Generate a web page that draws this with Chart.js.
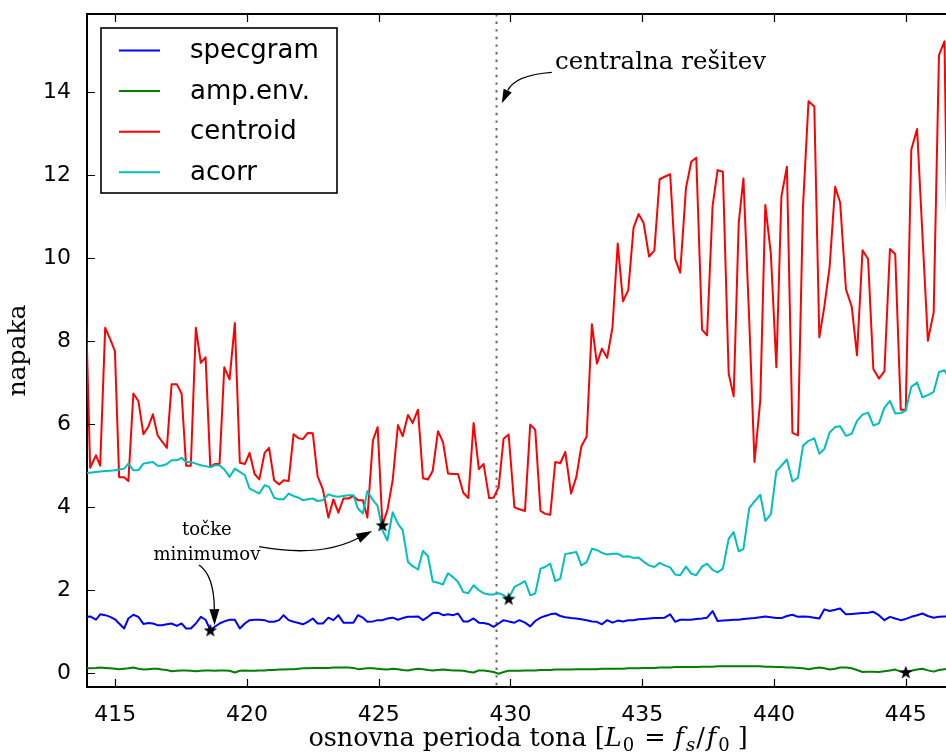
<!DOCTYPE html>
<html><head><meta charset="utf-8">
<script src="https://cdn.jsdelivr.net/npm/chart.js@4.4.1/dist/chart.umd.min.js"></script>
<style>
html,body{margin:0;padding:0;background:#fff;overflow:hidden;width:946px;height:756px}
#wrap{position:absolute;left:0;top:0;width:985px;height:756px}
</style></head><body><div id="wrap"><canvas id="c" width="985" height="756"></canvas></div>
<script>
// osnovna perioda tona L0 (x grid)
const L0 = [413.87, 414.05, 414.27, 414.43, 414.62, 414.81, 414.99, 415.15, 415.34, 415.50,
415.69, 415.88, 416.07, 416.26, 416.43, 416.61, 416.77, 416.96, 417.14, 417.34,
417.52, 417.69, 417.87, 418.06, 418.25, 418.43, 418.61, 418.78, 418.96, 419.14,
419.34, 419.54, 419.73, 419.92, 420.10, 420.29, 420.47, 420.67, 420.84, 421.03,
421.22, 421.39, 421.58, 421.77, 421.96, 422.12, 422.31, 422.50, 422.68, 422.88,
423.09, 423.28, 423.47, 423.66, 423.85, 424.04, 424.21, 424.40, 424.57, 424.78,
424.96, 425.14, 425.33, 425.53, 425.73, 425.91, 426.11, 426.29, 426.49, 426.68,
426.87, 427.05, 427.25, 427.44, 427.63, 427.83, 428.01, 428.21, 428.40, 428.60,
428.80, 428.98, 429.19, 429.36, 429.55, 429.74, 429.93, 430.15, 430.34, 430.55,
430.75, 430.94, 431.14, 431.32, 431.51, 431.70, 431.89, 432.08, 432.30, 432.50,
432.69, 432.89, 433.09, 433.28, 433.47, 433.67, 433.87, 434.07, 434.27, 434.47,
434.67, 434.86, 435.05, 435.26, 435.46, 435.66, 435.85, 436.06, 436.25, 436.44,
436.66, 436.86, 437.05, 437.27, 437.46, 437.67, 437.86, 438.06, 438.28, 438.47,
438.66, 438.84, 439.06, 439.26, 439.48, 439.67, 439.88, 440.09, 440.28, 440.49,
440.70, 440.91, 441.10, 441.31, 441.53, 441.72, 441.91, 442.11, 442.32, 442.51,
442.73, 442.95, 443.15, 443.36, 443.57, 443.77, 443.98, 444.19, 444.40, 444.60,
444.81, 445.00, 445.21, 445.43, 445.63, 445.84, 446.06, 446.26, 446.47, 446.68];

const specgram = [1.36, 1.37, 1.29, 1.42, 1.40, 1.36, 1.30, 1.20, 1.08, 1.32,
1.41, 1.36, 1.19, 1.21, 1.20, 1.16, 1.16, 1.18, 1.20, 1.14,
1.20, 1.08, 1.08, 1.20, 1.36, 1.29, 1.04, 1.12, 1.20, 1.25,
1.29, 1.29, 1.08, 1.20, 1.28, 1.29, 1.29, 1.28, 1.24, 1.24,
1.28, 1.40, 1.28, 1.24, 1.21, 1.18, 1.24, 1.32, 1.20, 1.20,
1.34, 1.28, 1.40, 1.22, 1.22, 1.22, 1.40, 1.34, 1.24, 1.25,
1.28, 1.28, 1.32, 1.34, 1.29, 1.33, 1.36, 1.36, 1.37, 1.28,
1.36, 1.45, 1.46, 1.40, 1.42, 1.40, 1.44, 1.25, 1.25, 1.32,
1.22, 1.21, 1.18, 1.12, 1.20, 1.28, 1.25, 1.22, 1.28, 1.22,
1.13, 1.26, 1.34, 1.38, 1.42, 1.44, 1.38, 1.35, 1.33, 1.32,
1.30, 1.28, 1.25, 1.24, 1.18, 1.28, 1.22, 1.27, 1.25, 1.28,
1.28, 1.30, 1.31, 1.32, 1.33, 1.33, 1.34, 1.42, 1.24, 1.29,
1.29, 1.29, 1.31, 1.32, 1.34, 1.50, 1.26, 1.27, 1.28, 1.29,
1.29, 1.31, 1.32, 1.33, 1.35, 1.37, 1.35, 1.33, 1.33, 1.38,
1.41, 1.36, 1.37, 1.36, 1.34, 1.32, 1.54, 1.50, 1.53, 1.56,
1.42, 1.43, 1.44, 1.45, 1.46, 1.48, 1.40, 1.28, 1.36, 1.32,
1.28, 1.31, 1.36, 1.40, 1.44, 1.38, 1.34, 1.36, 1.37, 1.37];

const ampEnv = [0.12, 0.12, 0.13, 0.14, 0.13, 0.12, 0.11, 0.10, 0.11, 0.12,
0.14, 0.11, 0.09, 0.10, 0.11, 0.11, 0.09, 0.08, 0.05, 0.06,
0.07, 0.07, 0.06, 0.05, 0.06, 0.07, 0.07, 0.06, 0.07, 0.07,
0.06, 0.02, 0.06, 0.07, 0.06, 0.06, 0.07, 0.07, 0.08, 0.08,
0.09, 0.09, 0.10, 0.10, 0.11, 0.12, 0.12, 0.13, 0.13, 0.13,
0.13, 0.14, 0.14, 0.14, 0.14, 0.13, 0.10, 0.11, 0.12, 0.12,
0.11, 0.10, 0.09, 0.11, 0.10, 0.08, 0.07, 0.09, 0.11, 0.10,
0.08, 0.07, 0.08, 0.09, 0.08, 0.07, 0.07, 0.06, 0.04, 0.02,
0.07, 0.07, 0.05, 0.03, -0.01, 0.03, 0.06, 0.06, 0.06, 0.07,
0.07, 0.07, 0.08, 0.08, 0.08, 0.09, 0.09, 0.09, 0.09, 0.10,
0.10, 0.10, 0.10, 0.10, 0.11, 0.11, 0.11, 0.11, 0.11, 0.12,
0.12, 0.12, 0.13, 0.13, 0.13, 0.14, 0.14, 0.14, 0.15, 0.15,
0.15, 0.15, 0.15, 0.16, 0.16, 0.16, 0.17, 0.17, 0.17, 0.17,
0.17, 0.17, 0.17, 0.17, 0.17, 0.16, 0.16, 0.15, 0.15, 0.14,
0.14, 0.13, 0.12, 0.10, 0.12, 0.14, 0.12, 0.09, 0.11, 0.14,
0.14, 0.12, 0.08, 0.03, 0.04, 0.04, 0.03, 0.05, 0.07, 0.09,
0.04, 0.03, 0.06, 0.09, 0.11, 0.07, 0.04, 0.08, 0.10, 0.11];

const centroid = [9.2, 4.95, 5.25, 5.0, 8.32, 8.05, 7.76, 4.72, 4.72, 4.63,
6.74, 6.56, 5.76, 5.94, 6.24, 5.73, 5.59, 5.43, 6.96, 6.96,
6.74, 5.0, 5.0, 8.32, 7.48, 7.61, 4.97, 5.04, 5.04, 7.37,
7.08, 8.44, 5.07, 5.04, 5.31, 4.80, 4.67, 5.31, 5.43, 4.65,
4.55, 4.65, 4.63, 5.76, 5.66, 5.64, 5.79, 5.78, 4.75, 4.43,
3.75, 4.19, 3.87, 4.21, 4.21, 4.27, 4.17, 4.17, 3.75, 5.61,
5.93, 3.57, 3.93, 4.65, 5.98, 5.71, 6.22, 6.03, 6.35, 4.70,
4.67, 4.88, 5.83, 5.57, 4.81, 4.80, 4.80, 4.35, 4.22, 6.03,
4.92, 5.04, 4.22, 4.23, 4.48, 5.65, 5.75, 4.00, 3.95, 3.91,
5.99, 5.87, 3.91, 3.84, 3.82, 5.09, 5.06, 5.33, 4.33, 4.73,
5.47, 5.70, 8.41, 7.46, 7.82, 7.60, 8.33, 10.35, 8.96, 9.23,
10.73, 11.06, 10.85, 10.04, 10.18, 11.90, 11.96, 12.02, 9.98, 9.65,
11.69, 12.32, 12.42, 8.28, 8.14, 11.26, 12.12, 12.08, 7.22, 6.67,
10.84, 11.92, 8.51, 5.09, 6.58, 11.28, 10.11, 7.37, 11.48, 12.20,
5.79, 5.73, 11.24, 13.78, 13.65, 8.09, 8.83, 9.78, 11.72, 11.34,
9.25, 8.83, 7.66, 10.19, 9.98, 7.33, 7.10, 7.27, 10.22, 10.10,
6.35, 6.35, 12.61, 13.11, 10.6, 8.01, 8.70, 14.89, 15.22, 6.0];

const acorr = [4.83, 4.83, 4.85, 4.86, 4.87, 4.88, 4.89, 4.91, 4.93, 5.05,
4.89, 4.89, 5.05, 5.07, 5.09, 5.00, 5.00, 5.04, 5.13, 5.13,
5.19, 5.09, 5.09, 5.05, 5.01, 4.99, 4.96, 5.01, 5.01, 4.91,
4.73, 4.93, 4.85, 4.77, 4.45, 4.39, 4.33, 4.53, 4.49, 4.23,
4.19, 4.19, 4.33, 4.27, 4.23, 4.17, 4.19, 4.21, 4.15, 4.17,
4.31, 4.27, 4.25, 4.27, 4.29, 4.29, 3.97, 3.85, 4.39, 4.17,
4.03, 3.45, 3.20, 3.88, 3.60, 3.45, 2.68, 2.58, 2.50, 2.95,
2.82, 2.21, 2.18, 2.14, 2.41, 2.31, 2.20, 1.96, 1.93, 2.12,
2.00, 1.93, 1.90, 1.90, 1.93, 1.88, 1.80, 2.08, 2.14, 2.22,
1.88, 1.92, 2.52, 2.56, 2.64, 2.22, 2.28, 2.87, 2.90, 2.92,
2.60, 2.68, 3.00, 2.97, 2.90, 2.86, 2.88, 2.88, 2.81, 2.82,
2.78, 2.79, 2.69, 2.60, 2.56, 2.66, 2.60, 2.55, 2.38, 2.36,
2.57, 2.40, 2.36, 2.57, 2.64, 2.49, 2.43, 2.52, 3.24, 3.40,
2.94, 2.99, 3.98, 4.14, 4.30, 3.67, 3.83, 4.87, 5.00, 5.15,
4.62, 4.71, 5.48, 5.60, 5.66, 5.29, 5.40, 5.80, 5.93, 5.95,
5.72, 5.77, 6.08, 6.23, 6.28, 5.97, 6.02, 6.40, 6.56, 6.26,
6.27, 6.33, 6.90, 7.00, 6.65, 6.70, 6.78, 7.25, 7.30, 7.05];

// točke minimumov
const minX = [418.61, 425.14, 429.93, 445.00];
const minY = [1.04, 3.57, 1.80, 0.03];

const seriesNames = ['specgram', 'amp.env.', 'centroid', 'acorr'];
const seriesColors = ['#0000ff', '#008000', '#ff0000', '#00bfbf'];
const xTicks = [415, 420, 425, 430, 435, 440, 445];
const yTicks = [0, 2, 4, 6, 8, 10, 12, 14];
const centralX = 429.47;
const yTitle = 'napaka';
// [text, style, extra gap after in px]
const xTitleParts = [['osnovna perioda tona [', 'n', 0], ['L', 'i', 1], ['0', 's', 10], ['=', 'n', 9], ['f', 'i', 2], ['s', 'si', 1], ['/', 'n', 2], ['f', 'i', 2], ['0', 's', 8], [']', 'n', 0]];
const centralText = 'centralna rešitev';
const minText = ['točke', 'minimumov'];

// annotation anchors in data units
const annCentral = {tx: 431.69, ty: 14.55, from: [431.57, 14.475], ctrl: [430.17, 14.41], to: [429.67, 13.73]};
const annMin = {tx: 418.48, ty: [3.33, 2.72],
  arrows: [
    {from: [418.18, 2.61], ctrl: [418.75, 2.37], to: [418.77, 1.16]},
    {from: [420.46, 3.05], ctrl: [422.77, 2.78], to: [424.75, 3.43]}
  ]};

const SERIF = '"DejaVu Serif", serif';
const SANS = '"DejaVu Sans", sans-serif';

const starImg = (() => {
  const c = document.createElement('canvas'); c.width = 16; c.height = 16;
  const g = c.getContext('2d'); g.fillStyle = '#000'; g.beginPath();
  for (let i = 0; i < 10; i++) {
    const r = i % 2 ? 2.9 : 7.2; const a = -Math.PI / 2 + i * Math.PI / 5;
    const px = 8 + r * Math.cos(a), py = 8.6 + r * Math.sin(a);
    if (i) g.lineTo(px, py); else g.moveTo(px, py);
  }
  g.closePath(); g.fill(); return c;
})();

const mk = vals => L0.map((x, i) => ({x, y: vals[i]}));
const seriesData = [specgram, ampEnv, centroid, acorr];

function arrow(ctx, p0, c, p1, head, half) {
  const dx = p1[0] - c[0], dy = p1[1] - c[1]; const len = Math.hypot(dx, dy);
  const ux = dx / len, uy = dy / len;
  const bx = p1[0] - ux * head, by = p1[1] - uy * head;
  ctx.beginPath(); ctx.moveTo(p0[0], p0[1]); ctx.quadraticCurveTo(c[0], c[1], bx, by); ctx.stroke();
  ctx.beginPath(); ctx.moveTo(p1[0], p1[1]);
  ctx.lineTo(bx - uy * half, by + ux * half); ctx.lineTo(bx + uy * half, by - ux * half);
  ctx.closePath(); ctx.fill();
}

const decor = {
  id: 'decor',
  beforeDatasetsDraw(chart) {
    const {ctx, chartArea: a, scales: {x}} = chart;
    const px = x.getPixelForValue(centralX);
    ctx.save(); ctx.strokeStyle = 'rgba(0,0,0,0.6)'; ctx.lineWidth = 2; ctx.setLineDash([2.4, 5.2]);
    ctx.beginPath(); ctx.moveTo(px, a.top); ctx.lineTo(px, a.bottom); ctx.stroke(); ctx.restore();
  },
  afterDatasetsDraw(chart) {
    const {ctx, chartArea: a, scales: {x, y}} = chart;
    ctx.save(); ctx.strokeStyle = '#000'; ctx.lineWidth = 1.2;
    ctx.beginPath();
    xTicks.forEach(v => { const p = Math.round(x.getPixelForValue(v)) + 0.5; ctx.moveTo(p, a.bottom); ctx.lineTo(p, a.bottom - 8); ctx.moveTo(p, a.top); ctx.lineTo(p, a.top + 8); });
    yTicks.forEach(v => { const p = Math.round(y.getPixelForValue(v)) + 0.5; ctx.moveTo(a.left, p); ctx.lineTo(a.left + 8, p); ctx.moveTo(a.right, p); ctx.lineTo(a.right - 8, p); });
    ctx.stroke();
    ctx.lineWidth = 2; ctx.beginPath(); ctx.moveTo(a.left, a.top); ctx.lineTo(a.right, a.top); ctx.lineTo(a.right, a.bottom); ctx.stroke();
    ctx.restore();
  },
  afterDraw(chart) {
    const {ctx, chartArea: a, scales: {x, y}} = chart;
    const P = d => [x.getPixelForValue(d[0]), y.getPixelForValue(d[1])];
    ctx.save();
    // legend
    const lx = a.left + 14, ly = a.top + 14, lw = 236, lh = 165;
    ctx.fillStyle = '#fff'; ctx.fillRect(lx, ly, lw, lh);
    ctx.strokeStyle = '#000'; ctx.lineWidth = 1.6; ctx.strokeRect(lx, ly, lw, lh);
    ctx.font = '26px ' + SANS; ctx.textBaseline = 'middle'; ctx.textAlign = 'left';
    chart.data.datasets.slice(0, 4).forEach((ds, i) => {
      const ry = ly + 22.5 + i * 40.6;
      ctx.strokeStyle = ds.borderColor; ctx.lineWidth = 2;
      ctx.beginPath(); ctx.moveTo(lx + 18, ry); ctx.lineTo(lx + 59, ry); ctx.stroke();
      ctx.fillStyle = '#000'; ctx.fillText(ds.label, lx + 89, ry + 1);
    });
    // annotations
    ctx.fillStyle = '#000'; ctx.strokeStyle = '#000'; ctx.lineWidth = 1.3;
    ctx.font = '24.5px ' + SERIF; ctx.textBaseline = 'alphabetic'; ctx.textAlign = 'left';
    const tc = P([annCentral.tx, annCentral.ty]); ctx.fillText(centralText, tc[0], tc[1]);
    arrow(ctx, P(annCentral.from), P(annCentral.ctrl), P(annCentral.to), 14, 4.5);
    ctx.font = '18px ' + SERIF; ctx.textAlign = 'center';
    minText.forEach((t, i) => { const p = P([annMin.tx, annMin.ty[i]]); ctx.fillText(t, p[0], p[1]); });
    annMin.arrows.forEach(r => arrow(ctx, P(r.from), P(r.ctrl), P(r.to), 16, 5));
    // x axis title with math
    const fonts = {n: '25.5px ' + SERIF, i: 'italic 25.5px ' + SERIF, s: '18px ' + SERIF, si: 'italic 18px ' + SERIF};
    const off = {n: 0, i: 0, s: 5, si: 5};
    let tw = 0; xTitleParts.forEach(([t, k, g]) => { ctx.font = fonts[k]; tw += ctx.measureText(t).width + g; });
    let cx = (a.left + a.right) / 2 - tw / 2; const base = 746;
    ctx.textAlign = 'left';
    xTitleParts.forEach(([t, k, g]) => { ctx.font = fonts[k]; ctx.fillText(t, cx, base + off[k]); cx += ctx.measureText(t).width + g; });
    ctx.restore();
  }
};

new Chart(document.getElementById('c'), {
  type: 'line',
  data: {
    datasets: seriesData.map((vals, i) => ({
      label: seriesNames[i], data: mk(vals), borderColor: seriesColors[i], backgroundColor: seriesColors[i],
      borderWidth: 2, pointRadius: 0, fill: false, tension: 0, borderJoinStyle: 'round', order: 4 - i
    })).concat([{
      label: 'minimumi', type: 'scatter', data: minX.map((x, i) => ({x, y: minY[i]})),
      pointStyle: starImg, pointRadius: 8, showLine: false, order: 0
    }])
  },
  options: {
    responsive: false, animation: false, devicePixelRatio: 1,
    layout: {padding: {left: 0, top: 14, right: 16, bottom: 0}},
    plugins: {legend: {display: false}, tooltip: {enabled: false}},
    scales: {
      x: {
        type: 'linear', min: 413.93, max: 447.40,
        afterBuildTicks: s => { s.ticks = xTicks.map(v => ({value: v})); },
        afterFit: s => { s.height = 69; s.paddingLeft = 0; s.paddingRight = 0; },
        grid: {display: false}, border: {display: true, color: '#000', width: 2},
        ticks: {font: {family: SANS, size: 22}, color: '#000', padding: 7, maxRotation: 0, autoSkip: false}
      },
      y: {
        min: -0.33, max: 15.88,
        afterBuildTicks: s => { s.ticks = yTicks.map(v => ({value: v})); },
        afterFit: s => { s.width = 87; s.paddingTop = 0; s.paddingBottom = 0; },
        grid: {display: false}, border: {display: true, color: '#000', width: 2},
        ticks: {font: {family: SANS, size: 22}, color: '#000', padding: 8, autoSkip: false},
        title: {display: true, text: yTitle, font: {family: SERIF, size: 25}, color: '#000', padding: {top: 3, bottom: 0}}
      }
    }
  },
  plugins: [decor]
});
</script></body></html>
